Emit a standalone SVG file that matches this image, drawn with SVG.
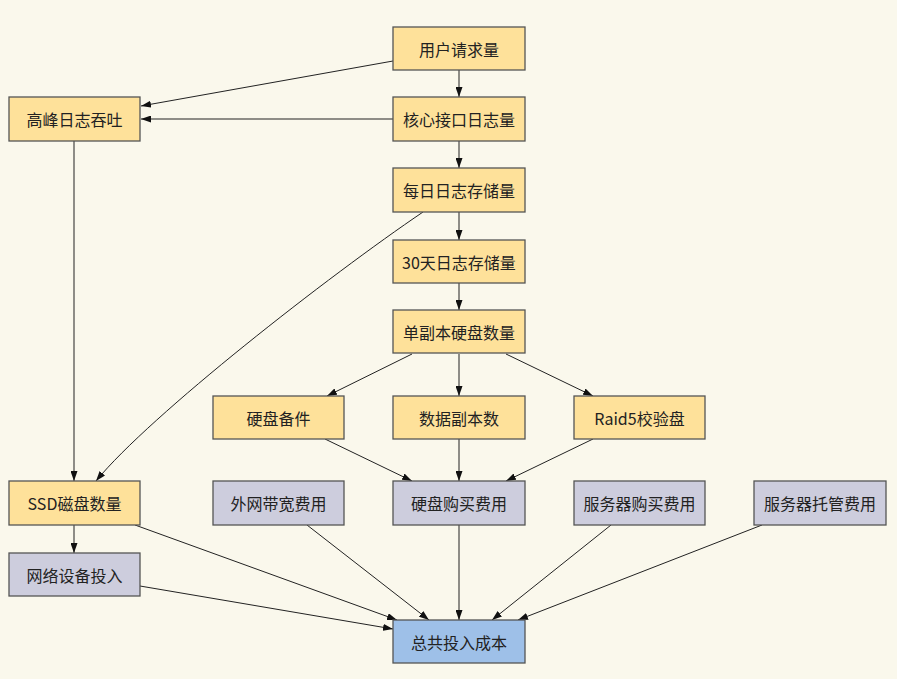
<svg xmlns="http://www.w3.org/2000/svg" width="897" height="679" viewBox="0 0 897 679">
<defs>
<marker id="ah" markerWidth="10" markerHeight="7" refX="10" refY="3.5" orient="auto" markerUnits="userSpaceOnUse">
<path d="M0,0 L10,3.5 L0,7 z" fill="#111"/>
</marker>
<style>
.n rect{stroke:#555;stroke-width:1.3}
.y rect{fill:#FEE19A}
.g rect{fill:#CDCDDD}
.b rect{fill:#9EC0E8}
.n text{font-family:"Noto Sans CJK SC","Noto Sans",sans-serif;font-size:16px;fill:#222;text-anchor:middle;dominant-baseline:central}
#edges path,#edges line{stroke:#222;stroke-width:1;fill:none;marker-end:url(#ah)}
</style>
</defs>
<rect width="897" height="679" fill="#FAF8EC"/>
<g id="edges">
<line x1="393" y1="61" x2="141" y2="106"/>
<line x1="393" y1="119" x2="141" y2="119"/>
<line x1="459" y1="70" x2="459" y2="97"/>
<line x1="459" y1="141" x2="459" y2="168"/>
<line x1="459" y1="212" x2="459" y2="240"/>
<line x1="459" y1="283" x2="459" y2="310"/>
<path d="M423,212 C330,275 150,415 96,481"/>
<line x1="74" y1="141" x2="74" y2="481"/>
<line x1="412" y1="354" x2="327" y2="396"/>
<line x1="459" y1="354" x2="459" y2="396"/>
<line x1="506" y1="354" x2="593" y2="396"/>
<line x1="325" y1="439" x2="412" y2="481"/>
<line x1="459" y1="439" x2="459" y2="481"/>
<line x1="593" y1="439" x2="506" y2="481"/>
<line x1="74" y1="525" x2="74" y2="553"/>
<line x1="135" y1="525" x2="397" y2="620"/>
<line x1="140" y1="586" x2="393" y2="629"/>
<line x1="307" y1="525" x2="429" y2="620"/>
<line x1="459" y1="525" x2="459" y2="620"/>
<line x1="611" y1="525" x2="492" y2="620"/>
<line x1="762" y1="525" x2="518" y2="620"/>
</g>
<g id="n1" class="n y"><rect x="393" y="27" width="132" height="43"/><text x="459" y="48.5">用户请求量</text></g>
<g id="n2" class="n y"><rect x="393" y="97" width="132" height="44"/><text x="459" y="119">核心接口日志量</text></g>
<g id="n3" class="n y"><rect x="9" y="97" width="131" height="44"/><text x="74.5" y="119">高峰日志吞吐</text></g>
<g id="n4" class="n y"><rect x="393" y="168" width="132" height="44"/><text x="459" y="190">每日日志存储量</text></g>
<g id="n5" class="n y"><rect x="393" y="240" width="132" height="43"/><text x="459" y="261.5">30天日志存储量</text></g>
<g id="n6" class="n y"><rect x="393" y="310" width="132" height="43"/><text x="459" y="331.5">单副本硬盘数量</text></g>
<g id="n7" class="n y"><rect x="213" y="396" width="131" height="43"/><text x="278.5" y="417.5">硬盘备件</text></g>
<g id="n8" class="n y"><rect x="393" y="396" width="132" height="43"/><text x="459" y="417.5">数据副本数</text></g>
<g id="n9" class="n y"><rect x="574" y="396" width="131" height="43"/><text x="639.5" y="417.5">Raid5校验盘</text></g>
<g id="n10" class="n y"><rect x="9" y="481" width="131" height="44"/><text x="74.5" y="503">SSD磁盘数量</text></g>
<g id="n11" class="n g"><rect x="213" y="481" width="131" height="44"/><text x="278.5" y="503">外网带宽费用</text></g>
<g id="n12" class="n g"><rect x="393" y="481" width="132" height="44"/><text x="459" y="503">硬盘购买费用</text></g>
<g id="n13" class="n g"><rect x="574" y="481" width="131" height="44"/><text x="639.5" y="503">服务器购买费用</text></g>
<g id="n14" class="n g"><rect x="754" y="481" width="132" height="44"/><text x="820" y="503">服务器托管费用</text></g>
<g id="n15" class="n g"><rect x="9" y="553" width="131" height="43"/><text x="74.5" y="574.5">网络设备投入</text></g>
<g id="n16" class="n b"><rect x="393" y="620" width="132" height="43"/><text x="459" y="641.5">总共投入成本</text></g>
</svg>
